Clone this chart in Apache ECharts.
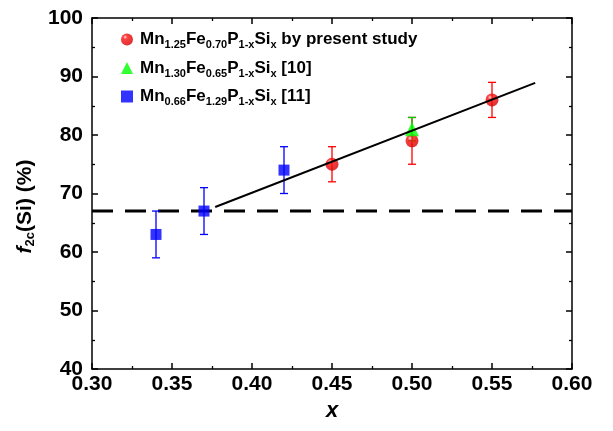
<!DOCTYPE html>
<html>
<head>
<meta charset="utf-8">
<script src="https://cdn.jsdelivr.net/npm/echarts@6/dist/echarts.min.js"></script>
<style>
  html, body { margin: 0; padding: 0; background: #fff; }
  #chart { width: 613px; height: 431px; }
</style>
</head>
<body>
<div id="chart"></div>
<script>
// data
const redX = [0.45, 0.50, 0.55];
const redY = [75, 79, 86];
const redErr = [3, 4, 3];

const greenX = [0.50];
const greenY = [81];
const greenErr = [2];

const blueX = [0.34, 0.37, 0.42];
const blueY = [63, 67, 74];
const blueErr = [4, 4, 4];

const fitX = [0.377, 0.577];
const fitY = [67.7, 88.9];

const dashX = [0.30, 0.60];
const dashY = [67, 67];

const legendNames = ['present', 'ref10', 'ref11'];
const legendLabels = {
  present: '{m|Mn}{s|1.25}{m|Fe}{s|0.70}{m|P}{s|1-x}{m|Si}{s|x}{m| by present study}',
  ref10: '{m|Mn}{s|1.30}{m|Fe}{s|0.65}{m|P}{s|1-x}{m|Si}{s|x}{m| [10]}',
  ref11: '{m|Mn}{s|0.66}{m|Fe}{s|1.29}{m|P}{s|1-x}{m|Si}{s|x}{m| [11]}'
};

const font = 'Liberation Sans, Arial, sans-serif';

function pts(xs, ys) {
  return xs.map((x, i) => [x, ys[i]]);
}
function errPts(xs, ys, es) {
  return xs.map((x, i) => [x, ys[i] - es[i], ys[i] + es[i]]);
}

// vertical error bar with caps
function errBar(color) {
  return function (params, api) {
    const lo = api.coord([api.value(0), api.value(1)]);
    const hi = api.coord([api.value(0), api.value(2)]);
    const w = 4;
    const st = { stroke: color, lineWidth: 1.3 };
    return {
      type: 'group',
      children: [
        { type: 'line', shape: { x1: lo[0], y1: lo[1], x2: hi[0], y2: hi[1] }, style: st },
        { type: 'line', shape: { x1: lo[0] - w, y1: lo[1], x2: lo[0] + w, y2: lo[1] }, style: st },
        { type: 'line', shape: { x1: hi[0] - w, y1: hi[1], x2: hi[0] + w, y2: hi[1] }, style: st }
      ]
    };
  };
}

const ball = new echarts.graphic.RadialGradient(0.35, 0.3, 0.7, [
  { offset: 0, color: '#ffd8d8' },
  { offset: 0.25, color: '#ff1010' },
  { offset: 1, color: '#d40000' }
]);

const axisCommon = {
  axisLine: { lineStyle: { color: '#000', width: 1.5 } },
  axisTick: { inside: true, length: 6, lineStyle: { color: '#000', width: 1.5 } },
  minorTick: { show: true, splitNumber: 2, length: 3, lineStyle: { color: '#000', width: 1.3 } },
  splitLine: { show: false }
};

const chart = echarts.init(document.getElementById('chart'));
chart.setOption({
  animation: false,
  backgroundColor: '#fff',
  grid: { left: 92, right: 41, top: 18, bottom: 62, containLabel: false },
  legend: {
    data: legendNames,
    orient: 'vertical',
    left: 116,
    top: 26,
    itemGap: 9,
    itemWidth: 12,
    itemHeight: 12,
    formatter: n => legendLabels[n],
    textStyle: {
      padding: [0, 0, 0, 2],
      rich: {
        m: { fontFamily: font, fontWeight: 'bold', fontSize: 17, color: '#000' },
        s: { fontFamily: font, fontWeight: 'bold', fontSize: 11, color: '#000', padding: [11, 0, 0, 0] }
      }
    }
  },
  xAxis: [
    Object.assign({
      type: 'value', min: 0.30, max: 0.60, interval: 0.05,
      name: 'x', nameLocation: 'middle', nameGap: 30,
      nameTextStyle: { fontFamily: font, fontWeight: 'bold', fontStyle: 'italic', fontSize: 22, color: '#000' },
      axisLabel: { fontFamily: font, fontWeight: 'bold', fontSize: 21, color: '#000', margin: 5,
        formatter: v => v.toFixed(2) }
    }, axisCommon),
    Object.assign({
      type: 'value', position: 'top', min: 0.30, max: 0.60, interval: 0.05,
      axisLabel: { show: false }
    }, axisCommon)
  ],
  yAxis: [
    Object.assign({
      type: 'value', min: 40, max: 100, interval: 10,
      name: '{i|f}{s|2c}{n|(Si) (%)}', nameLocation: 'middle', nameGap: 50, nameRotate: 90,
      nameTextStyle: {
        padding: [0, 26, 0, 0],
        rich: {
          i: { fontFamily: font, fontWeight: 'bold', fontStyle: 'italic', fontSize: 21, color: '#000' },
          s: { fontFamily: font, fontWeight: 'bold', fontSize: 13, color: '#000', padding: [10, 0, 0, 0] },
          n: { fontFamily: font, fontWeight: 'bold', fontSize: 21, color: '#000' }
        }
      },
      axisLabel: { fontFamily: font, fontWeight: 'bold', fontSize: 21, color: '#000', margin: 9 }
    }, axisCommon),
    Object.assign({
      type: 'value', position: 'right', min: 40, max: 100, interval: 10,
      axisLabel: { show: false }
    }, axisCommon)
  ],
  series: [
    {
      type: 'line', data: pts(dashX, dashY), symbol: 'none', silent: true,
      lineStyle: { color: '#000', width: 3, type: [21, 12] }, z: 1
    },
    { type: 'custom', renderItem: errBar('#0000ff'), data: errPts(blueX, blueY, blueErr), z: 2, silent: true },
    { type: 'custom', renderItem: errBar('#ff0000'), data: errPts(redX, redY, redErr), z: 2, silent: true },
    { type: 'custom', renderItem: errBar('#00cc00'), data: errPts(greenX, greenY, greenErr), z: 2, silent: true },
    {
      name: 'present', type: 'scatter', data: pts(redX, redY), symbol: 'circle', symbolSize: 13,
      itemStyle: { color: ball }, z: 3
    },
    {
      name: 'ref10', type: 'scatter', data: pts(greenX, greenY), symbol: 'triangle', symbolSize: 14,
      itemStyle: { color: '#00ff00' }, z: 3
    },
    {
      name: 'ref11', type: 'scatter', data: pts(blueX, blueY), symbol: 'rect', symbolSize: 11,
      itemStyle: { color: '#0000ff' }, z: 3
    },
    {
      type: 'line', data: pts(fitX, fitY), symbol: 'none', silent: true,
      lineStyle: { color: '#000', width: 2 }, z: 4
    }
  ]
});
</script>
</body>
</html>
